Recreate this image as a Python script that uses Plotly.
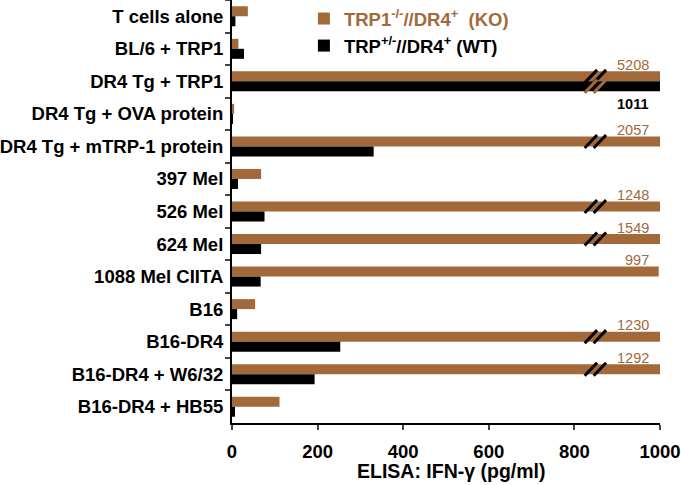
import plotly.graph_objects as go

categories = [
    "T cells alone", "BL/6 + TRP1", "DR4 Tg + TRP1", "DR4 Tg + OVA protein",
    "DR4 Tg + mTRP-1 protein", "397 Mel", "526 Mel", "624 Mel",
    "1088 Mel CIITA", "B16", "B16-DR4", "B16-DR4 + W6/32", "B16-DR4 + HB55",
]
ko_values = [37, 15, 5208, 5, 2057, 68, 1248, 1549, 997, 54, 1230, 1292, 111]
wt_values = [8, 28, 1011, 2, 331, 14, 76, 68, 67, 12, 253, 193, 7]
x_ticks = [0, 200, 400, 600, 800, 1000]
x_max = 1000
label_threshold = 900
x_title = "ELISA: IFN-γ (pg/ml)"

BROWN = "#A2693A"
BLACK = "#000000"
FONT = "Arial, Liberation Sans, sans-serif"

fig = go.Figure()
fig.add_trace(go.Bar(
    y=categories, x=ko_values, orientation="h", marker_color=BROWN,
    marker_line_width=0, legendgroup="ko",
    name='<span style="color:%s">TRP1<sup>-/-</sup>//DR4<sup>+</sup>&nbsp; (KO)</span>' % BROWN,
))
fig.add_trace(go.Bar(
    y=categories, x=wt_values, orientation="h", marker_color=BLACK,
    marker_line_width=0, legendgroup="wt",
    name="TRP<sup>+/-</sup>//DR4<sup>+</sup> (WT)",
))

# axis-break marks and value labels for bars exceeding the axis range
half_w = 0.3075 / 2
shapes = []
annotations = []
for series, off, slash_col, vals in [("ko", -half_w, BLACK, ko_values),
                                     ("wt", half_w, BROWN, wt_values)]:
    for i, v in enumerate(vals):
        if v > x_max:
            yc = i + off
            for x0 in (824, 845):
                shapes.append(dict(type="line", xref="x", yref="y",
                                   x0=x0, x1=x0 + 29, y0=yc + 0.2, y1=yc - 0.2,
                                   line=dict(color=slash_col, width=3)))
        if v > label_threshold:
            if series == "ko":
                annotations.append(dict(x=x_max, y=i - 0.5, xref="x", yref="y",
                                        text=str(v), showarrow=False,
                                        xanchor="right", yanchor="middle", xshift=-9,
                                        font=dict(family=FONT, size=14.5, color=BROWN,
                                                  weight="normal")))
            else:
                annotations.append(dict(x=x_max, y=i + 0.7, xref="x", yref="y",
                                        text=str(v), showarrow=False,
                                        xanchor="right", yanchor="middle", xshift=-10,
                                        font=dict(family=FONT, size=14.5, color=BLACK,
                                                  weight="bold")))

# x-axis title
annotations.append(dict(x=0.514, y=-0.1135, xref="paper", yref="paper", text=x_title,
                        showarrow=False, xanchor="center", yanchor="middle",
                        font=dict(family=FONT, size=19.5, color=BLACK, weight="bold")))

fig.update_layout(
    width=681, height=485,
    margin=dict(l=232, r=21, t=0, b=62),
    paper_bgcolor="white", plot_bgcolor="white",
    barmode="group", bargap=0.385, bargroupgap=0,
    font=dict(family=FONT, size=18, color="black", weight="bold"),
    showlegend=True,
    legend=dict(x=0.168, y=1.0, xanchor="left", yanchor="top",
                bgcolor="rgba(0,0,0,0)", font=dict(size=18.5, weight="bold"),
                tracegroupgap=0),
    shapes=shapes, annotations=annotations,
)
fig.update_xaxes(
    range=[0, x_max], tickvals=x_ticks, ticks="outside", ticklen=5, tickwidth=2,
    showline=True, linewidth=2, linecolor="black", showgrid=False, zeroline=False,
    tickfont=dict(size=18.5, weight="bold"), ticklabelstandoff=6,
)
fig.update_yaxes(
    autorange="reversed", ticks="outside", ticklen=5, tickwidth=2, tickson="boundaries",
    showline=True, linewidth=2, linecolor="black", showgrid=False,
    tickfont=dict(size=18.5, weight="bold"), ticklabelstandoff=3,
)

fig.write_html("out.html", config={"displayModeBar": False},
               post_script="document.body.style.margin='0';")
